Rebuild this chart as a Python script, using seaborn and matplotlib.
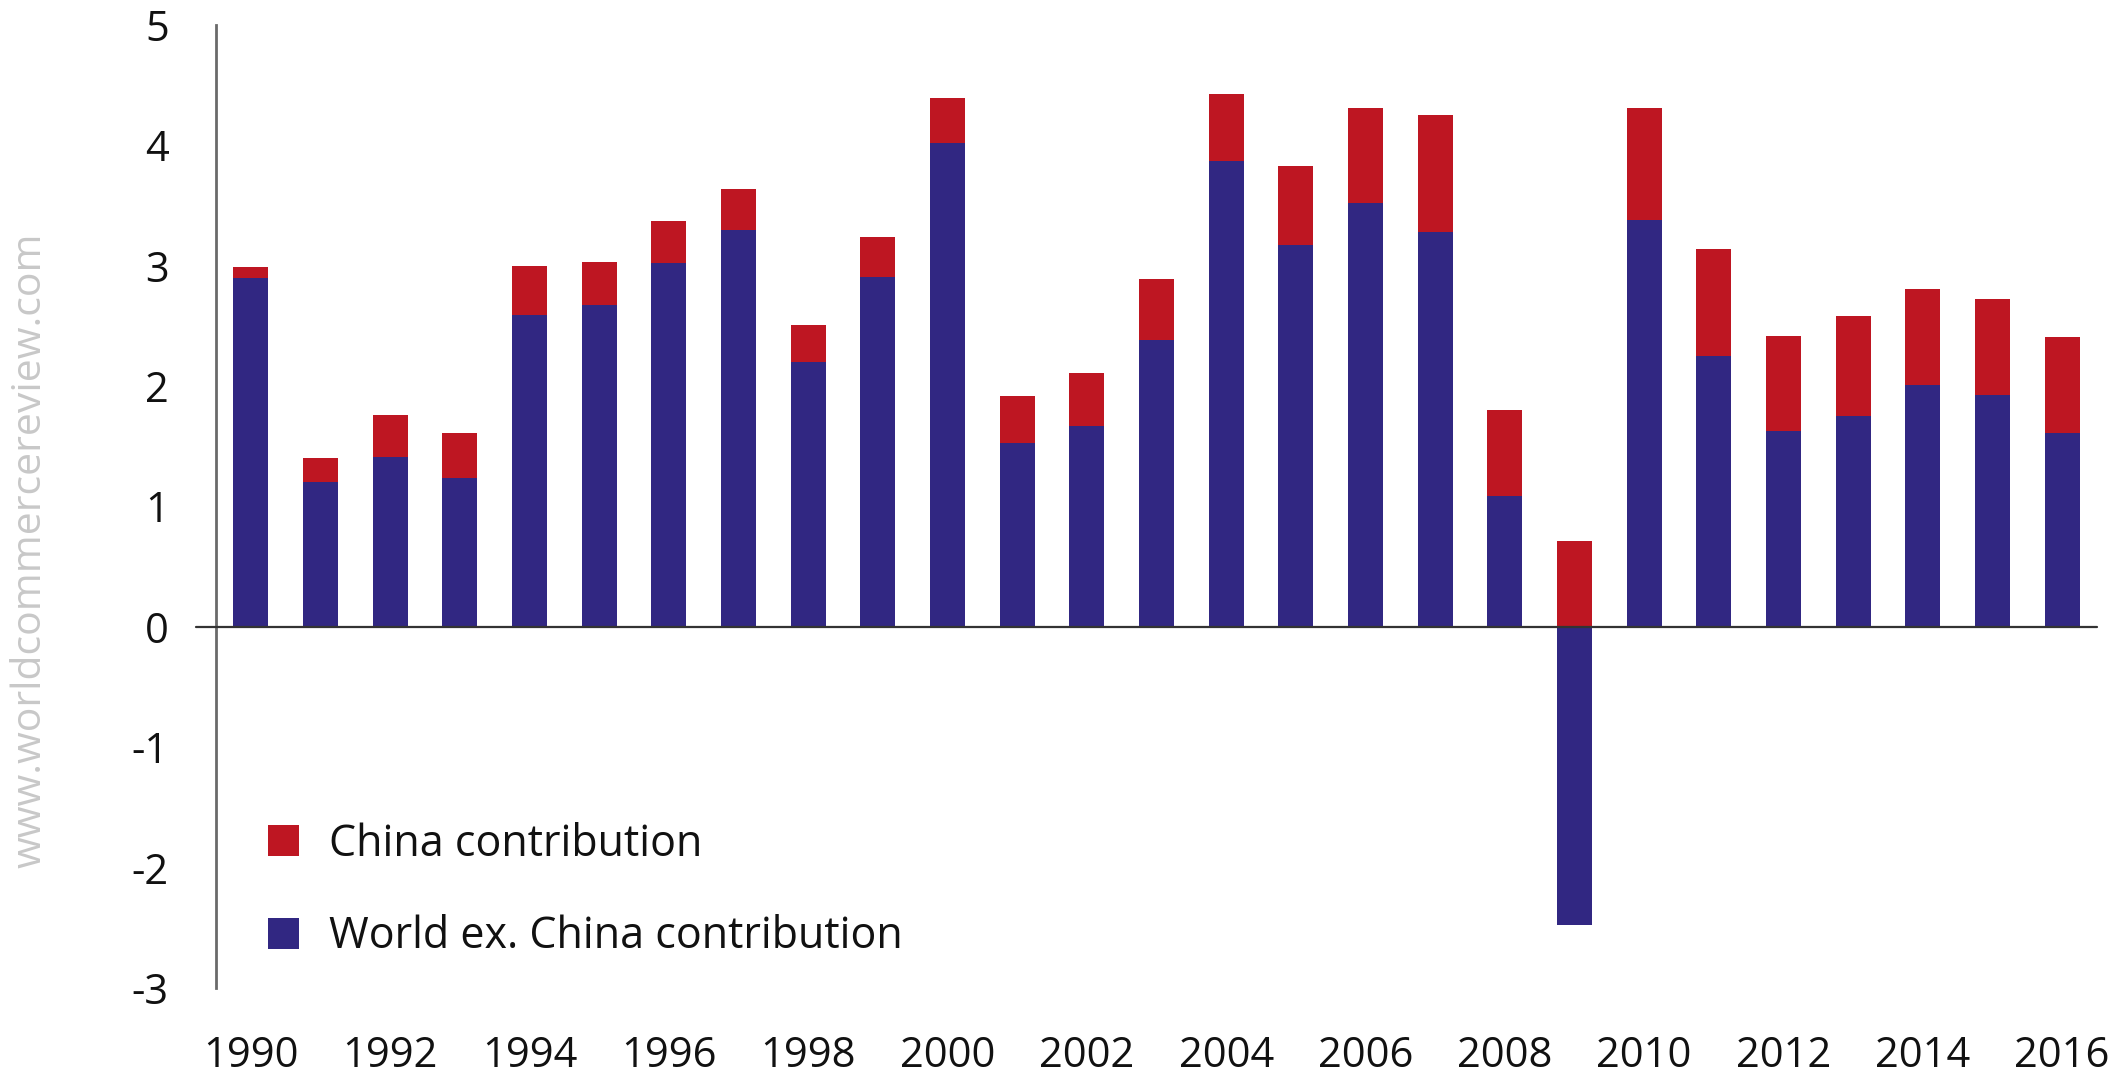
import numpy as np
import pandas as pd
import matplotlib
matplotlib.use("Agg")
import matplotlib.pyplot as plt
import seaborn as sns

# Contributions to world growth, percentage points
years = [str(y) for y in range(1990, 2017)]
world_ex_china = [2.90, 1.20, 1.41, 1.24, 2.59, 2.67, 3.02, 3.30, 2.20, 2.91,
                  4.02, 1.53, 1.67, 2.38, 3.87, 3.17, 3.52, 3.28, 1.09, -2.48,
                  3.38, 2.25, 1.63, 1.75, 2.01, 1.93, 1.61]
china = [0.09, 0.20, 0.35, 0.37, 0.41, 0.36, 0.35, 0.34, 0.31, 0.33,
         0.37, 0.39, 0.44, 0.51, 0.56, 0.66, 0.79, 0.97, 0.71, 0.71,
         0.93, 0.89, 0.79, 0.83, 0.80, 0.79, 0.80]
yticks = [-3, -2, -1, 0, 1, 2, 3, 4, 5]
xtick_labels = years[::2]

RED = "#be1622"
BLUE = "#312782"

sns.set_style("white")
plt.rcParams["font.family"] = ["Open Sans", "DejaVu Sans"]

df = pd.DataFrame({"year": years, "world": world_ex_china, "china": china})
# China segment sits on top of the positive part of the world segment
df["stack_top"] = np.maximum(df["world"], 0) + df["china"]

W, H = 2124, 1076
fig = plt.figure(figsize=(W / 100, H / 100), dpi=100)
ax = fig.add_axes([216 / W, 1 - 988 / H, (2097 - 216) / W, (988 - 25) / H])

sns.barplot(data=df, x="year", y="stack_top", color=RED, width=0.5,
            saturation=1, linewidth=0, ax=ax, label="China contribution")
sns.barplot(data=df, x="year", y="world", color=BLUE, width=0.5,
            saturation=1, linewidth=0, ax=ax, label="World ex. China contribution")

ax.set_xlim(-0.5, len(years) - 0.5)
ax.set_ylim(-3, 5)
ax.set_yticks(yticks)
ax.set_yticklabels([str(v) for v in yticks])
ax.set_xticks(range(0, len(years), 2))
ax.set_xticklabels(xtick_labels)
ax.set_xlabel("")
ax.set_ylabel("")

for side in ["top", "right", "bottom"]:
    ax.spines[side].set_visible(False)
ax.spines["left"].set_color("#6a6a6a")
ax.spines["left"].set_linewidth(2.0)

ax.tick_params(axis="y", length=0, pad=34, labelsize=30, colors="#111111")
ax.tick_params(axis="x", length=0, pad=34, labelsize=30, colors="#111111")

# Zero line, reaching slightly left of the axis
ax.plot([-0.0106, 1.0], [0, 0], transform=ax.get_yaxis_transform(),
        color="#333333", lw=1.6, clip_on=False, zorder=5)

leg = ax.legend(loc="upper left", bbox_to_anchor=(268 / W, 1 - 822 / H),
                bbox_transform=fig.transFigure, frameon=False, fontsize=31,
                handlelength=0.72, handleheight=0.72, handletextpad=0.7,
                labelspacing=1.12, borderpad=0, borderaxespad=0)
for t in leg.get_texts():
    t.set_color("#111111")

fig.text(30 / W, 1 - 550 / H, "www.worldcommercereview.com", rotation=90,
         ha="center", va="center", color="#c8c8c8", fontsize=29.5)

fig.savefig("out.png", dpi=100)
